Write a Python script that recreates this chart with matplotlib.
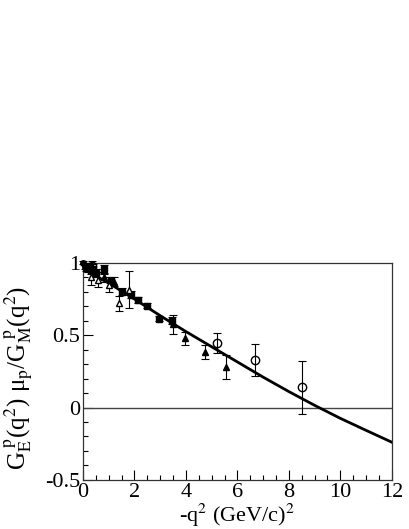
import matplotlib
matplotlib.use("Agg")
import matplotlib.pyplot as plt
from matplotlib.ticker import MultipleLocator, FuncFormatter

plt.rcParams["font.family"] = ["Liberation Serif", "DejaVu Serif"]
plt.rcParams["mathtext.fontset"] = "stix"

# model curve
curve_x = [0.0, 0.1, 0.25, 0.5, 1.0, 2.0, 3.0, 4.0, 5.0, 6.0, 7.0, 8.0, 9.0, 10.0, 11.0, 12.0]
curve_y = [1.0, 0.97, 0.94, 0.91, 0.86, 0.75, 0.635, 0.525, 0.42, 0.315, 0.21, 0.11, 0.015, -0.075, -0.158, -0.24]

# low-Q2 points (filled circles)
circ_x = [0.01, 0.06, 0.12, 0.18]
circ_y = [1.0, 0.975, 0.965, 0.955]
circ_e = [0.01, 0.015, 0.02, 0.02]

# filled squares
sq_x = [0.2, 0.3, 0.4, 0.5, 0.8, 1.1, 1.5, 1.85, 2.15, 2.5, 2.95, 3.45]
sq_y = [0.97, 0.95, 0.96, 0.93, 0.955, 0.875, 0.80, 0.78, 0.745, 0.705, 0.615, 0.60]
sq_e = [0.03, 0.03, 0.03, 0.03, 0.03, 0.025, 0.025, 0.025, 0.02, 0.02, 0.02, 0.025]

# open triangles
otri_x = [0.3, 0.6, 1.0, 1.4, 1.78]
otri_y = [0.90, 0.885, 0.85, 0.72, 0.815]
otri_e = [0.05, 0.05, 0.05, 0.05, 0.13]

# filled triangles
ftri_x = [0.5, 0.8, 1.2, 3.5, 3.95, 4.75, 5.55]
ftri_y = [0.93, 0.90, 0.87, 0.575, 0.48, 0.385, 0.28]
ftri_e = [0.03, 0.03, 0.03, 0.065, 0.045, 0.05, 0.08]

# open circles
ocirc_x = [0.35, 5.2, 6.7, 8.5]
ocirc_y = [0.98, 0.445, 0.33, 0.14]
ocirc_e = [0.03, 0.067, 0.109, 0.183]

fig = plt.figure(figsize=(4.09, 5.29), dpi=100)
ax = fig.add_axes([0.203, 0.093, 0.755, 0.41])

ax.axhline(0, color="#444444", linewidth=1.0)
ax.plot(curve_x, curve_y, color="black", linewidth=2.0, zorder=3)

eb = dict(ecolor="black", elinewidth=0.8, capsize=3, capthick=0.8,
          linestyle="none", color="black", zorder=4, clip_on=False)
ax.errorbar(circ_x, circ_y, yerr=circ_e, fmt="o", markersize=4, **eb)
ax.errorbar(sq_x, sq_y, yerr=sq_e, fmt="s", markersize=4, **eb)
ax.errorbar(otri_x, otri_y, yerr=otri_e, fmt="^", markersize=5,
            markerfacecolor="white", **eb)
ax.errorbar(ftri_x, ftri_y, yerr=ftri_e, fmt="^", markersize=5, **eb)
ax.errorbar(ocirc_x, ocirc_y, yerr=ocirc_e, fmt="o", markersize=6,
            markerfacecolor="none", **eb)

ax.set_xlim(0, 12)
ax.set_ylim(-0.5, 1.0)
ax.xaxis.set_major_locator(MultipleLocator(2))
ax.xaxis.set_minor_locator(MultipleLocator(0.5))
ax.yaxis.set_major_locator(MultipleLocator(0.5))
ax.yaxis.set_minor_locator(MultipleLocator(0.1))
ax.xaxis.set_major_formatter(FuncFormatter(lambda v, p: f"{v:g}"))
ax.yaxis.set_major_formatter(FuncFormatter(lambda v, p: f"{v:g}"))

ax.tick_params(which="both", direction="in", top=False, right=False,
               labelsize=16, width=0.8)
ax.tick_params(which="major", length=7, pad=2)
ax.tick_params(which="minor", length=3.5)
for spine in ax.spines.values():
    spine.set_linewidth(0.9)
    spine.set_color("#333333")

ax.set_xlabel(r"-q$^{2}$ (GeV/c)$^{2}$", fontsize=16, labelpad=0)
ax.set_ylabel(r"G$_{\mathrm{E}}^{\ \mathrm{p}}$(q$^{2}$) μ$_{\mathrm{p}}$/G$_{\mathrm{M}}^{\ \mathrm{p}}$(q$^{2}$)",
              fontsize=18)
ax.yaxis.set_label_coords(-0.155, 0.47)

fig.savefig("out.png", dpi=100)
